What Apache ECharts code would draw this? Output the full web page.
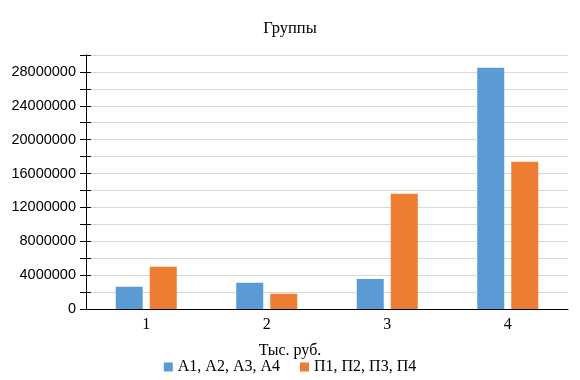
<!DOCTYPE html>
<html><head><meta charset="utf-8">
<script src="https://cdn.jsdelivr.net/npm/echarts@6/dist/echarts.min.js"></script>
<style>html,body{margin:0;padding:0;background:#fff}#c{width:580px;height:380px}</style>
</head><body><div id="c"></div>
<script>
const categories = ['1', '2', '3', '4'];
const seriesA = [2630000, 3100000, 3550000, 28500000];
const seriesP = [5000000, 1800000, 13600000, 17400000];
const nameA = 'А1, А2, А3, А4';
const nameP = 'П1, П2, П3, П4';
const titleText = 'Группы';
const xName = 'Тыс. руб.';

const chart = echarts.init(document.getElementById('c'), null, {renderer: 'canvas'});
const serif = '"Liberation Serif", "DejaVu Serif", serif';
const sans = '"Liberation Sans", Arial, sans-serif';
const yBase = {
  type: 'value', min: 0, max: 30000000, interval: 2000000,
  axisLine: {show: true, lineStyle: {color: '#000', width: 1}},
};
chart.setOption({
  animation: false,
  title: {text: titleText, left: 'center', top: 15, textStyle: {fontFamily: serif, fontSize: 16.5, fontWeight: 'normal', color: '#000'}},
  grid: {left: 86, right: 12, top: 55, bottom: 71, containLabel: false},
  legend: {
    bottom: 0, left: 'center', itemWidth: 9, itemHeight: 9, itemGap: 20,
    icon: 'rect',
    textStyle: {fontFamily: serif, fontSize: 16, color: '#000'},
    data: [nameA, nameP]
  },
  xAxis: {
    type: 'category', data: categories,
    name: xName, nameLocation: 'middle', nameGap: 34,
    nameTextStyle: {fontFamily: serif, fontSize: 16, color: '#000', padding: [0, 74, 0, 0]},
    axisLine: {lineStyle: {color: '#000', width: 1}},
    axisTick: {show: false},
    axisLabel: {fontFamily: serif, fontSize: 16, color: '#000', margin: 8}
  },
  yAxis: [
    Object.assign({}, yBase, {
      axisTick: {show: true, length: 6, lineStyle: {color: '#000'}},
      splitLine: {show: true, lineStyle: {color: '#d9d9d9', width: 1}},
      axisLabel: {fontFamily: sans, fontSize: 14.5, color: '#000', margin: 10,
        formatter: v => (v % 4000000 === 0) ? String(v) : ''}
    }),
    Object.assign({}, yBase, {
      position: 'left',
      axisTick: {show: true, inside: true, length: 5, lineStyle: {color: '#000'}},
      splitLine: {show: false},
      axisLabel: {show: false}
    })
  ],
  series: [
    {name: nameA, type: 'bar', data: seriesA, barWidth: 27, barGap: '26%', itemStyle: {color: '#5b9bd5'}},
    {name: nameP, type: 'bar', data: seriesP, barWidth: 27, barGap: '26%', itemStyle: {color: '#ed7d31'}}
  ]
});
</script></body></html>
